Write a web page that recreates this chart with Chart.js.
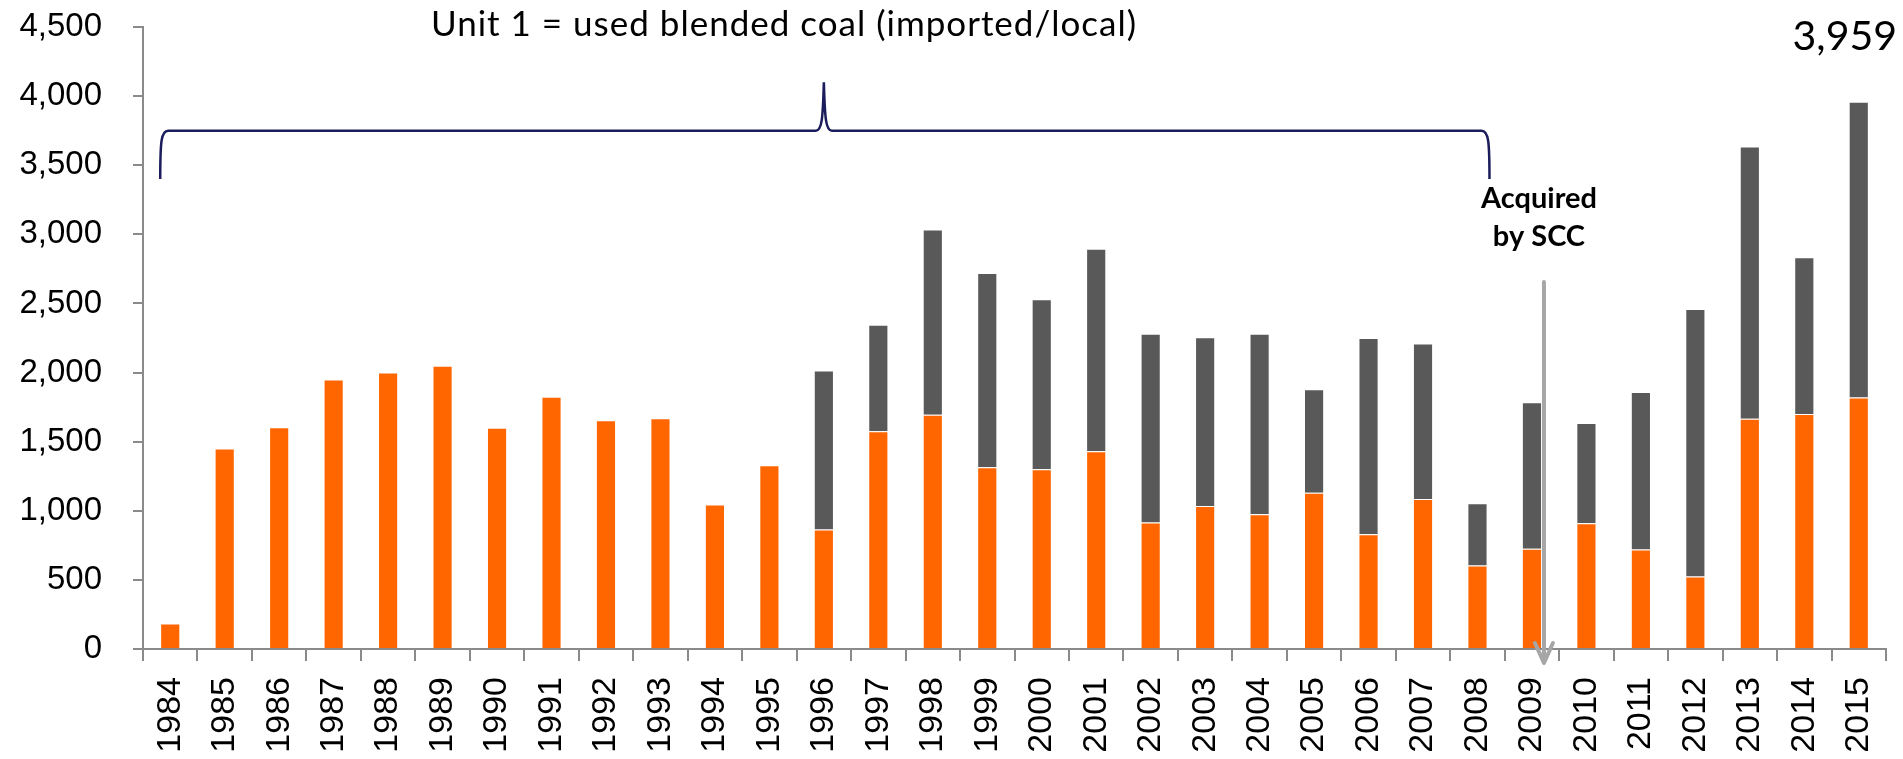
<!DOCTYPE html>
<html>
<head>
<meta charset="utf-8">
<script src="https://cdn.jsdelivr.net/npm/chart.js@4.4.0/dist/chart.umd.min.js"></script>
<style>
  html, body { margin: 0; padding: 0; background: #fff; }
  #wrap { width: 1903px; height: 759px; position: relative; }
</style>
</head>
<body>
<div id="wrap"><canvas id="cchart"></canvas></div>
<script>
const years = ['1984','1985','1986','1987','1988','1989','1990','1991','1992','1993','1994','1995',
  '1996','1997','1998','1999','2000','2001','2002','2003','2004','2005','2006','2007','2008','2009',
  '2010','2011','2012','2013','2014','2015'];

// orange part of each bar
const orangePart = [185,1450,1605,1950,2000,2050,1600,1825,1655,1670,1045,1330,
  865,1575,1695,1315,1300,1430,915,1035,975,1130,830,1085,605,725,
  910,720,525,1665,1700,1820];

// grey part stacked on top
const greyPart = [0,0,0,0,0,0,0,0,0,0,0,0,
  1150,770,1340,1405,1230,1465,1365,1220,1305,750,1420,1125,450,1060,
  725,1140,1935,1970,1135,2139];

const yTicks = [0,500,1000,1500,2000,2500,3000,3500,4000,4500];

const titleText = 'Unit 1 = used blended coal (imported/local)';
const lastTotal = '3,959';
const noteLines = ['Acquired', 'by SCC'];

const axisGrey = '#8a8a8a';

const notes = {
  id: 'notes',
  afterDraw(chart) {
    const ctx = chart.ctx;
    const x = chart.scales.x;
    const y = chart.scales.y;
    ctx.save();

    // title above the brace
    ctx.fillStyle = '#000';
    ctx.font = '35px Lato';
    ctx.letterSpacing = '1px';
    ctx.textAlign = 'center';
    ctx.textBaseline = 'alphabetic';
    ctx.fillText(titleText, 784, 36);
    ctx.letterSpacing = '0px';

    // curly brace over 1984..2008
    const x0 = x.getPixelForValue(0) - 10;
    const x1 = x.getPixelForValue(24) + 12;
    const xp = x.getPixelForValue(12);
    const yb = y.getPixelForValue(3400);
    const yh = y.getPixelForValue(3750);
    const yk = y.getPixelForValue(4100);
    ctx.strokeStyle = '#1c1c5c';
    ctx.lineWidth = 2.5;
    ctx.beginPath();
    ctx.moveTo(x0, yb);
    ctx.bezierCurveTo(x0, yh + 10, x0 + 1, yh, x0 + 8, yh);
    ctx.lineTo(xp - 8, yh);
    ctx.bezierCurveTo(xp - 2, yh, xp - 1, yh - 12, xp, yk);
    ctx.bezierCurveTo(xp + 1, yh - 12, xp + 2, yh, xp + 8, yh);
    ctx.lineTo(x1 - 8, yh);
    ctx.bezierCurveTo(x1 - 1, yh, x1, yh + 10, x1, yb);
    ctx.stroke();

    // total over last bar
    ctx.font = '41px Lato';
    ctx.fillText(lastTotal, x.getPixelForValue(31) - 14, y.getPixelForValue(3959) - 52);

    // acquired note
    ctx.font = 'bold 29px Lato';
    const nx = x.getPixelForValue(25) + 7;
    ctx.fillText(noteLines[0], nx, 208);
    ctx.fillText(noteLines[1], nx, 246);

    // arrow down to 2009
    const ax = x.getPixelForValue(25) + 12;
    const aTop = y.getPixelForValue(2655);
    const aBot = y.getPixelForValue(0) + 14;
    ctx.strokeStyle = '#a6a6a6';
    ctx.lineWidth = 4;
    ctx.lineCap = 'round';
    ctx.lineJoin = 'round';
    ctx.beginPath();
    ctx.moveTo(ax, aTop);
    ctx.lineTo(ax, aBot);
    ctx.moveTo(ax - 9, aBot - 20);
    ctx.lineTo(ax, aBot);
    ctx.lineTo(ax + 9, aBot - 20);
    ctx.stroke();

    ctx.restore();
  }
};

const data = {
  labels: years,
  datasets: [
    { label: 'local', data: orangePart, backgroundColor: '#ff6600',
      borderWidth: 1, borderColor: 'rgba(255,255,255,0.35)' },
    { label: 'imported', data: greyPart, backgroundColor: '#595959',
      borderWidth: 1, borderColor: 'rgba(255,255,255,0.35)' }
  ]
};

const config = {
  type: 'bar',
  data: data,
  options: {
    responsive: true,
    maintainAspectRatio: false,
    animation: false,
    layout: { padding: { top: 27, right: 17, bottom: 0, left: 0 } },
    datasets: { bar: { categoryPercentage: 1, barPercentage: 0.37 } },
    plugins: { legend: { display: false }, tooltip: { enabled: false } },
    scales: {
      x: {
        stacked: true,
        grid: { display: true, drawOnChartArea: false, drawTicks: true, tickLength: 12, color: axisGrey, lineWidth: 2 },
        border: { color: axisGrey, width: 2 },
        ticks: { minRotation: 90, maxRotation: 90, padding: 16, color: '#000',
                 font: { family: 'Liberation Sans', size: 34 } },
        afterFit(scale) {
          scale.height = 110;
          scale.paddingLeft = 0;
          scale.paddingRight = 0;
        }
      },
      y: {
        stacked: true,
        min: 0,
        max: 4500,
        afterBuildTicks(scale) { scale.ticks = yTicks.map(v => ({ value: v })); },
        grid: { display: true, drawOnChartArea: false, drawTicks: true, tickLength: 10, color: axisGrey, lineWidth: 2 },
        border: { color: axisGrey, width: 2 },
        ticks: { padding: 31, color: '#000', font: { family: 'Liberation Sans', size: 33 } },
        afterFit(scale) {
          scale.width = 143;
          scale.paddingTop = 0;
          scale.paddingBottom = 0;
        }
      }
    }
  },
  plugins: [notes]
};

const chart = new Chart(document.getElementById('cchart').getContext('2d'), config);
</script>
</body>
</html>
